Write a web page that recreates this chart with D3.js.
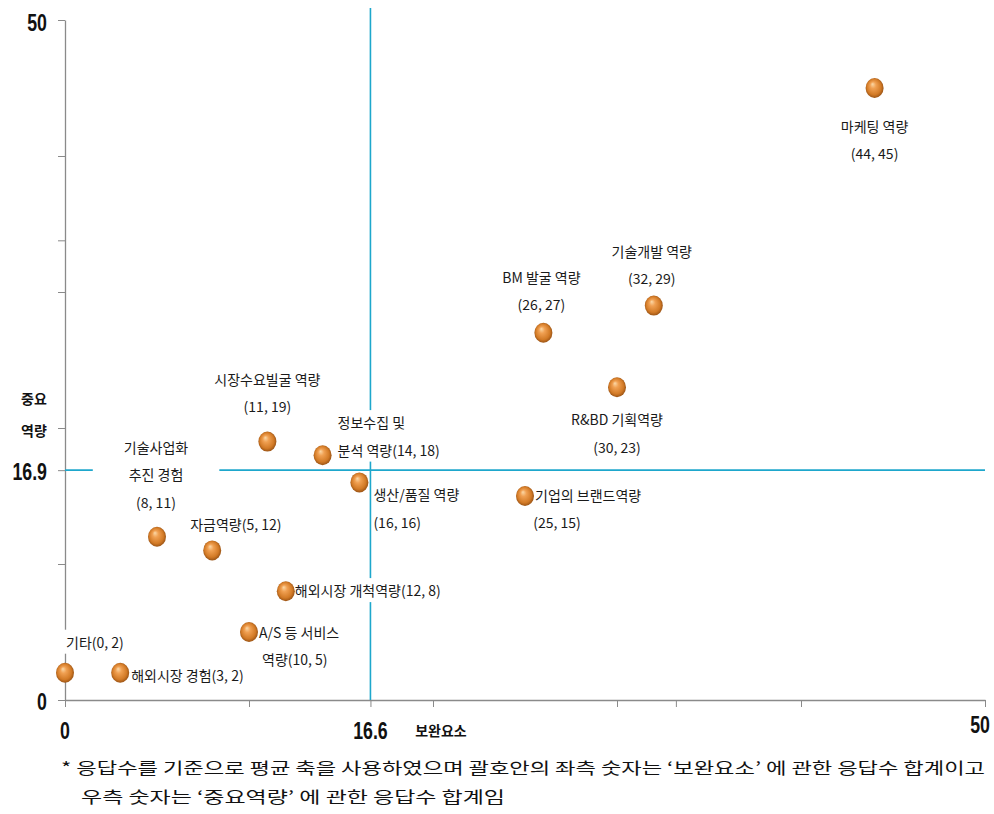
<!DOCTYPE html>
<html><head><meta charset="utf-8">
<script src="https://cdn.jsdelivr.net/npm/d3@7"></script>
<style>
html,body{margin:0;padding:0;background:#fff;}
svg{display:block;}
</style></head>
<body>
<svg id="chart" width="994" height="814"></svg>
<script>
// ---- data ----
const labelLines = [
  ["마케팅 역량", "(44, 45)"],
  ["기술개발 역량", "(32, 29)"],
  ["BM 발굴 역량", "(26, 27)"],
  ["R&BD 기획역량", "(30, 23)"],
  ["기업의 브랜드역량", "(25, 15)"],
  ["생산/품질 역량", "(16, 16)"],
  ["정보수집 및", "분석 역량(14, 18)"],
  ["시장수요빌굴 역량", "(11, 19)"],
  ["기술사업화", "추진 경험", "(8, 11)"],
  ["자금역량(5, 12)"],
  ["해외시장 개척역량(12, 8)"],
  ["A/S 등 서비스", "역량(10, 5)"],
  ["기타(0, 2)"],
  ["해외시장 경험(3, 2)"]
];
// plotted positions as they appear in the picture
const xValues = [44, 32, 26, 30, 25, 16, 14, 11, 5, 8, 12, 10, 0, 3];
const yValues = [45, 29, 27, 23, 15, 16, 18, 19, 12, 11, 8, 5, 2, 2];
const xMean = 16.6, yMean = 16.9;
const xTicks = [0, 10, 16.6, 20, 30, 33.2, 40, 50];
const yTicks = [0, 10, 16.9, 20, 30, 33.8, 40, 50];
const xTickLabels = [0, 16.6, 50];
const yTickLabels = [0, 16.9, 50];
const xTitle = "보완요소";
const yTitle = ["중요", "역량"];
const footnote = [
  "* 응답수를 기준으로 평균 축을 사용하였으며 괄호안의 좌측 숫자는  ‘보완요소’ 에 관한 응답수 합계이고",
  "우측 숫자는  ‘중요역량’ 에 관한 응답수 합계임"
];

// label layout (offsets from the point, px)
const labelLayout = [
  {dx:0,  dy:39,  anchor:"middle", pad:4},
  {dx:-2, dy:-54, anchor:"middle", pad:4},
  {dx:-2, dy:-55, anchor:"middle", pad:4},
  {dx:0,  dy:33,  anchor:"middle", pad:4},
  {dx:10, dy:0,   anchor:"start",  pad:3, second:{dx:32, anchor:"middle"}},
  {dx:14, dy:13,  anchor:"start",  pad:1},
  {dx:15, dy:-32, anchor:"start",  pad:4},
  {dx:0,  dy:-62, anchor:"middle", pad:4},
  {dx:-1, dy:-89, anchor:"middle", pad:31},
  {dx:-22,dy:-25, anchor:"start",  pad:3},
  {dx:9,  dy:0,   anchor:"start",  pad:3},
  {dx:10, dy:1,   anchor:"start",  pad:3, second:{dx:13, anchor:"start"}},
  {dx:1,  dy:-30, anchor:"start",  pad:2},
  {dx:11, dy:3,   anchor:"start",  pad:2}
];

const svg = d3.select("#chart");
const x = d3.scaleLinear().domain([0, 50]).range([65, 985]);
const y = d3.scaleLinear().domain([0, 50]).range([700, 20]);

const defs = svg.append("defs");
const grad = defs.append("radialGradient").attr("id","ball")
  .attr("cx","50%").attr("cy","50%").attr("r","55%").attr("fx","38%").attr("fy","30%");
grad.append("stop").attr("offset","0%").attr("stop-color","#fbd9a8");
grad.append("stop").attr("offset","30%").attr("stop-color","#f0a052");
grad.append("stop").attr("offset","72%").attr("stop-color","#d27a26");
grad.append("stop").attr("offset","100%").attr("stop-color","#8a4810");

// axes
const axisColor = "#8a8a8a";
const gx = svg.append("g").attr("transform", `translate(0,${y(0)})`)
  .call(d3.axisBottom(x).tickValues(xTicks).tickFormat("").tickSizeInner(7).tickSizeOuter(0));
const gy = svg.append("g").attr("transform", `translate(${x(0)},0)`)
  .call(d3.axisLeft(y).tickValues(yTicks).tickFormat("").tickSizeInner(7).tickSizeOuter(0));
[gx, gy].forEach(g => {
  g.selectAll("path.domain").attr("stroke", axisColor).attr("stroke-width", 1.3);
  g.selectAll(".tick line").attr("stroke", axisColor).attr("stroke-width", 1);
});

// mean lines
const meanColor = "#1ea7cc";
svg.append("line").attr("x1", x(xMean)).attr("x2", x(xMean)).attr("y1", 8).attr("y2", y(0))
  .attr("stroke", meanColor).attr("stroke-width", 1.6);
svg.append("line").attr("x1", x(0)).attr("x2", x(50)).attr("y1", y(yMean)).attr("y2", y(yMean))
  .attr("stroke", meanColor).attr("stroke-width", 1.6);

// tick labels (condensed bold numbers)
const numFont = "'Liberation Sans','Arial',sans-serif";
const squeeze = 0.74;
svg.append("g").selectAll("text").data(yTickLabels).join("text")
  .attr("transform", d => `translate(47,${y(d) + (d === 50 ? 2 : 1)}) scale(${squeeze},1)`).attr("dy", "0.36em")
  .attr("text-anchor", "end").attr("font-family", numFont).attr("font-weight", "bold")
  .attr("font-size", 24).attr("fill", "#111").text(d => d);
svg.append("g").selectAll("text").data(xTickLabels).join("text")
  .attr("transform", d => `translate(${x(d) - (d === 50 ? 5 : 0)},${d === 50 ? 724 : 730}) scale(${squeeze},1)`)
  .attr("dy", "0.36em")
  .attr("text-anchor", "middle").attr("font-family", numFont).attr("font-weight", "bold")
  .attr("font-size", 24).attr("fill", "#111").text(d => d);

const krFont = "'Noto Sans CJK KR','Noto Sans',sans-serif";
svg.append("text").attr("x", 441).attr("y", 731).attr("dy", "0.35em").attr("text-anchor","middle")
  .attr("font-family", krFont).attr("font-weight","bold").attr("font-size", 14).attr("fill","#111").text(xTitle);
svg.append("g").selectAll("text").data(yTitle).join("text")
  .attr("x", 34).attr("y", (d,i) => 399 + i*32).attr("dy","0.35em").attr("text-anchor","middle")
  .attr("font-family", krFont).attr("font-weight","bold").attr("font-size", 14).attr("fill","#111").text(d => d);

// labels
const labelG = svg.append("g");
const lineGap = 27.5;
labelLines.forEach((lines, i) => {
  const L = labelLayout[i];
  const px = x(xValues[i]), py = y(yValues[i]);
  const g = labelG.append("g");
  const bg = g.append("rect").attr("fill", "#fff");
  lines.forEach((t, j) => {
    let dx = L.dx, anchor = L.anchor;
    if (j > 0 && L.second) { dx = L.second.dx; anchor = L.second.anchor; }
    g.append("text").attr("x", px + dx).attr("y", py + L.dy + j*lineGap).attr("dy","0.35em")
      .attr("text-anchor", anchor).attr("font-family", krFont).attr("font-size", 14)
      .attr("fill", "#1a1a1a").text(t);
  });
  const texts = g.selectAll("text").nodes();
  let x0=Infinity,y0=Infinity,x1=-Infinity,y1=-Infinity;
  texts.forEach(n => { const b = n.getBBox(); x0=Math.min(x0,b.x); y0=Math.min(y0,b.y); x1=Math.max(x1,b.x+b.width); y1=Math.max(y1,b.y+b.height); });
  bg.attr("x", x0 - L.pad).attr("y", y0 - 2).attr("width", x1 - x0 + 2*L.pad).attr("height", y1 - y0 + 4);
});

// points
svg.append("g").selectAll("ellipse").data(xValues.map((v,i)=>({x:v, y:yValues[i]}))).join("ellipse")
  .attr("cx", d => x(d.x)).attr("cy", d => y(d.y)).attr("rx", 9).attr("ry", 10)
  .attr("fill", "url(#ball)");

// footnote
svg.append("g").selectAll("text").data(footnote).join("text")
  .attr("x", (d,i) => i === 0 ? 61 : 81).attr("y", (d,i) => 768 + i*29).attr("dy","0.35em")
  .attr("font-family", krFont).attr("font-size", 16).attr("fill", "#111")
  .attr("textLength", (d,i) => i === 0 ? 924 : 424).attr("lengthAdjust", "spacingAndGlyphs")
  .text(d => d);
</script>
</body></html>
